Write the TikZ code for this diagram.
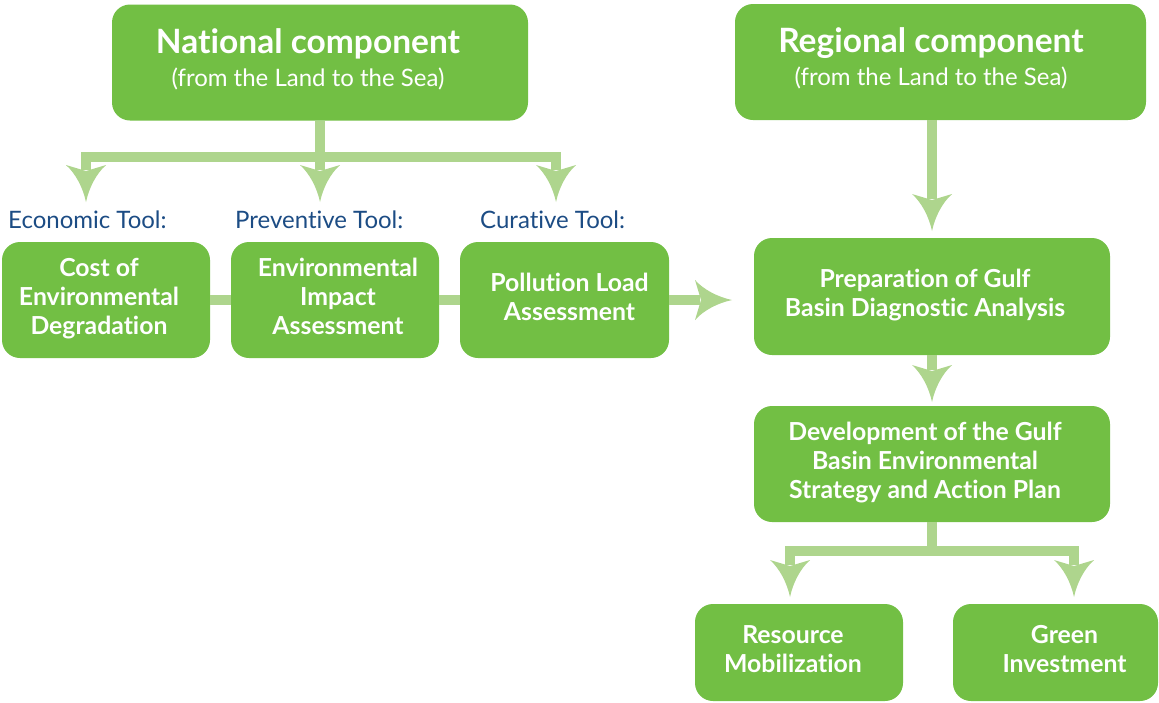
\documentclass[tikz,border=0pt]{standalone}
\usepackage{fontspec}
\setmainfont{Lato}[Ligatures=NoCommon, RawFeature={-liga;-dlig}]
\usetikzlibrary{calc}
\definecolor{boxg}{RGB}{114,191,68}
\definecolor{lineg}{RGB}{174,213,141}
\definecolor{navy}{RGB}{28,76,132}
% text block shifted left (#1 = twice the shift) or right
\newcommand\lblock[2]{\begin{tabular}{@{}c@{\hspace{#1}}}#2\end{tabular}}
\newcommand\rblock[2]{\begin{tabular}{@{\hspace{#1}}c@{}}#2\end{tabular}}
\begin{document}
\begin{tikzpicture}[x=1pt,y=-1pt,
  box/.style={fill=boxg, rounded corners=18pt, text=white,
    font=\bfseries\fontsize{24.8}{29}\selectfont, inner sep=0pt},
  titlebox/.style={box, font=\fontsize{24}{33}\selectfont},
  conn/.style={draw=lineg, line width=10pt, line join=miter},
  toollabel/.style={text=navy, font=\fontsize{24}{28}\selectfont, anchor=base west, inner sep=0pt},
  downhead/.pic={\fill[lineg] (0,0) .. controls (-3,-14) and (-10,-28) .. (-20,-37) -- (0,-31) -- (20,-37) .. controls (10,-28) and (3,-14) .. cycle;},
  righthead/.pic={\fill[lineg] (0,0) .. controls (-14,-3) and (-28,-10) .. (-37,-20) -- (-31,0) -- (-37,20) .. controls (-28,10) and (-14,3) .. cycle;}
]
\useasboundingbox (0,0) rectangle (1159,702);

% boxes
\node[titlebox, minimum width=416pt, minimum height=116pt] (nat) at (320,62.5)
  {\lblock{24pt}{{\bfseries\fontsize{33.5}{36}\selectfont National component}\\(from the Land to the Sea)}};
\node[titlebox, minimum width=411pt, minimum height=116pt] (reg) at (940.5,62)
  {\lblock{19pt}{{\bfseries\fontsize{33.5}{36}\selectfont Regional component}\\(from the Land to the Sea)}};

\node[box, minimum width=208pt, minimum height=116pt] (cost) at (106,300)
  {\lblock{14pt}{Cost of\\Environmental\\Degradation}};
\node[box, minimum width=208pt, minimum height=116pt] (eia) at (335,300)
  {\rblock{6pt}{Environmental\\Impact\\Assessment}};
\node[box, minimum width=209pt, minimum height=116pt] (pla) at (564.5,300)
  {\rblock{10pt}{Pollution Load\\Assessment}};
\node[box, minimum width=356pt, minimum height=117pt] (prep) at (932,296.5)
  {\lblock{14pt}{Preparation of Gulf\\Basin Diagnostic Analysis}};
\node[box, minimum width=356pt, minimum height=116pt] (dev) at (932,464)
  {\lblock{14pt}{Development of the Gulf\\Basin Environmental\\Strategy and Action Plan}};
\node[box, minimum width=208pt, minimum height=97pt] (res) at (799,652.5)
  {\lblock{12pt}{Resource\\Mobilization}};
\node[box, minimum width=205pt, minimum height=97pt] (grn) at (1055.5,652.5)
  {\rblock{18pt}{Green\\Investment}};

% tool labels
\node[toollabel] (l1) at (8,228) {Economic Tool:};
\node[toollabel] (l2) at (235,228) {Preventive Tool:};
\node[toollabel] (l3) at (480,228) {Curative Tool:};

% arrow tips
\coordinate (a1) at (86,202);
\coordinate (a2) at (320,202);
\coordinate (a3) at (556,202);
\coordinate (a4) at (932,231);
\coordinate (a5) at (732,300);
\coordinate (a6) at (932,402);
\coordinate (a7) at (790,597);
\coordinate (a8) at (1074,597);
\coordinate (bar1) at (320,157);
\coordinate (bar2) at (932,551);

% national branches
\draw[conn] ($(a1)+(0,-32)$) |- (bar1) -| ($(a3)+(0,-32)$);
\draw[conn] (nat.south) -- ($(a2)+(0,-32)$);
\pic at (a1) {downhead};
\pic at (a2) {downhead};
\pic at (a3) {downhead};

% tool chain
\draw[conn] (cost.east) -- (eia.west);
\draw[conn] (eia.east) -- (pla.west);
\draw[conn] (pla.east) -- ($(a5)+(-32,0)$);
\pic at (a5) {righthead};

% regional
\draw[conn] (reg.south -| a4) -- ($(a4)+(0,-32)$);
\pic at (a4) {downhead};
\draw[conn] (prep.south) -- ($(a6)+(0,-32)$);
\pic at (a6) {downhead};

% development branches
\draw[conn] (dev.south) -- (bar2);
\draw[conn] ($(a7)+(0,-32)$) |- (bar2) -| ($(a8)+(0,-32)$);
\pic at (a7) {downhead};
\pic at (a8) {downhead};
\end{tikzpicture}
\end{document}
